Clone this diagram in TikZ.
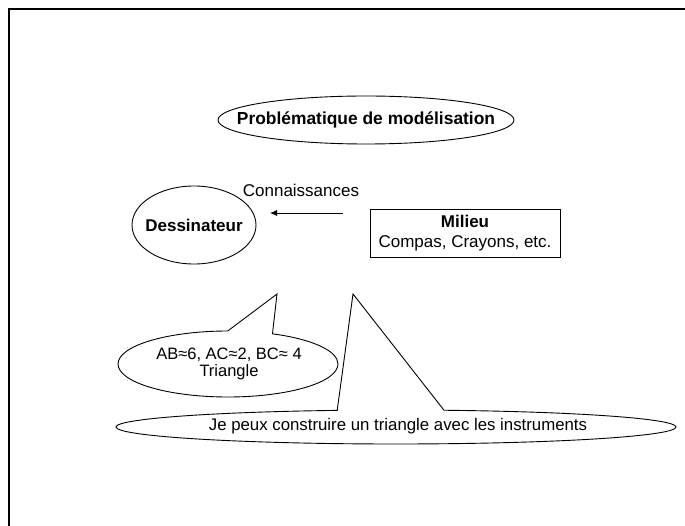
\documentclass[tikz,border=0pt]{standalone}
\usepackage{fontspec}
\setmainfont{Liberation Sans}
\usetikzlibrary{shapes.geometric,shapes.callouts,arrows.meta}
\begin{document}
\begin{tikzpicture}[x=1pt,y=-1pt,line width=0.9pt,
  every node/.style={font=\fontsize{17}{20}\selectfont,inner sep=0pt,align=center},
  oval/.style={ellipse,draw},
  bubble/.style={ellipse callout,draw},
  framebox/.style={draw}]
\useasboundingbox (0,0) rectangle (685,526);
\draw[line width=2pt] (685,9) -- (9,9) -- (9,526);
\node[oval,minimum width=296pt,minimum height=48pt,
  label={[font=\fontsize{17.4}{19}\selectfont\bfseries]center:Problématique de modélisation}] (title) at (366,120) {};
\node (conn) at (301,190) {Connaissances};
\node[oval,minimum width=124pt,minimum height=78pt,
  label={[font=\fontsize{17}{19}\selectfont\bfseries]center:Dessinateur}] (dess) at (194,225) {};
\node[framebox,minimum width=190pt,minimum height=48pt] (milieu) at (465,233) {\textbf{Milieu}\\Compas, Crayons, etc.};
\coordinate (a1) at (343,213);
\coordinate (a2) at (270,213);
\draw[-{Latex[length=7pt,width=6pt]}] (a1) -- (a2);
\node[bubble,minimum width=220pt,minimum height=66pt,callout absolute pointer={(277,294)},callout pointer arc=24] (c1) at (228,364) {};
\node[font=\fontsize{16.5}{17}\selectfont] (t1) at (229,364) {AB≈6, AC≈2, BC≈ 4\\Triangle};
\node[bubble,minimum width=560pt,minimum height=34pt,callout absolute pointer={(353,294)},callout pointer arc=22] (c2) at (396,427) {};
\node[font=\fontsize{16.8}{19}\selectfont] (t2) at (398,426) {Je peux construire un triangle avec les instruments};
\end{tikzpicture}
\end{document}
